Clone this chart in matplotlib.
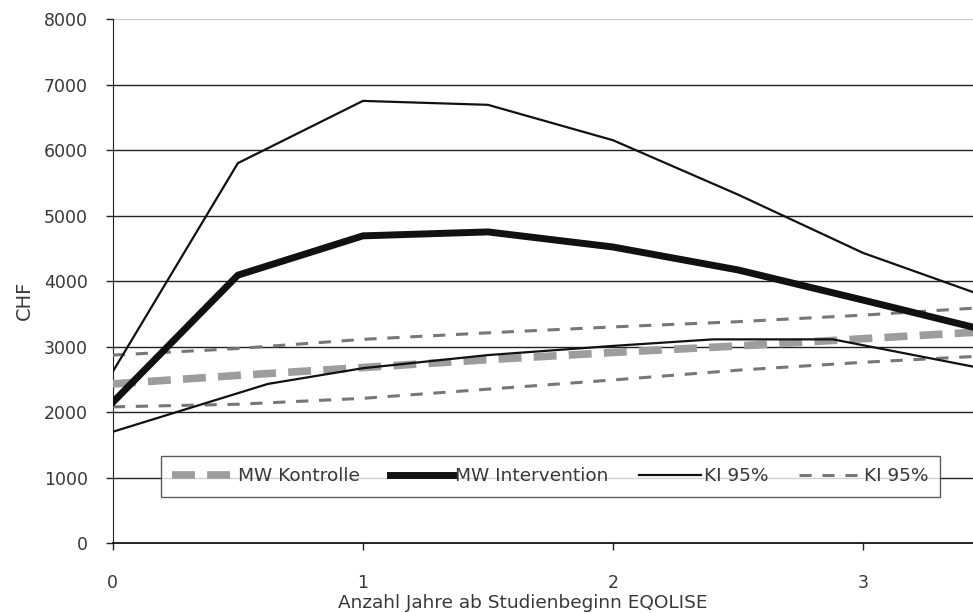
import numpy as np
import matplotlib
matplotlib.use("Agg")
import matplotlib.pyplot as plt

# --- data (CHF per year since study start) ---
years = [0, 0.5, 1, 1.5, 2, 2.5, 3, 3.5]
mw_kontrolle = [2430, 2560, 2680, 2800, 2910, 3010, 3120, 3230]
mw_intervention = [2150, 4090, 4690, 4750, 4520, 4170, 3710, 3240]
ki_int_upper = [2620, 5800, 6750, 6690, 6150, 5320, 4430, 3750]

ki_int_lower_x = [0, 0.62, 1, 1.5, 2, 2.4, 2.88, 3.5]
ki_int_lower = [1700, 2430, 2670, 2870, 3010, 3110, 3110, 2650]

ki_ctrl_upper = [2870, 2970, 3110, 3210, 3300, 3380, 3480, 3600]
ki_ctrl_lower = [2080, 2120, 2210, 2350, 2490, 2640, 2760, 2860]

y_ticks = [0, 1000, 2000, 3000, 4000, 5000, 6000, 7000, 8000]
x_ticks = [0, 1, 2, 3]

plt.rcParams["font.family"] = ["DejaVu Sans"]
txt_col = "#383838"
fs = 12.5
fs_big = 13.3

fig = plt.figure(figsize=(9.73, 6.13), dpi=100)
ax = fig.add_axes([0.116, 0.114, 0.884, 0.855])

# horizontal grid lines
for yv in y_ticks[1:-1]:
    ax.axhline(yv, color="#222222", lw=1.0, zorder=1)
ax.axhline(8000, color="#cccccc", lw=1.0, zorder=1)

ax.plot(years, mw_kontrolle, color="#9d9d9d", lw=5.5, dashes=(3, 1.6),
        label="MW Kontrolle", zorder=3)
ax.plot(years, mw_intervention, color="#111111", lw=5.0,
        label="MW Intervention", zorder=4)
ax.plot(years, ki_int_upper, color="#111111", lw=1.6, label="KI 95%", zorder=4)
ax.plot(ki_int_lower_x, ki_int_lower, color="#111111", lw=1.6, zorder=4)
ax.plot(years, ki_ctrl_upper, color="#777777", lw=2.2, dashes=(4, 3.5),
        label="KI 95%", zorder=3)
ax.plot(years, ki_ctrl_lower, color="#777777", lw=2.2, dashes=(4, 3.5), zorder=3)

ax.set_xlim(0, 3.44)
ax.set_ylim(0, 8000)
ax.set_xticks(x_ticks)
ax.set_yticks(y_ticks)
ax.tick_params(axis="both", direction="out", length=5, width=1, color="#222222",
               labelsize=fs, labelcolor=txt_col)
ax.tick_params(axis="y", pad=13)
ax.tick_params(axis="x", pad=17)

for side in ["top", "right"]:
    ax.spines[side].set_visible(False)
ax.spines["left"].set_color("#222222")
ax.spines["bottom"].set_color("#111111")
ax.spines["bottom"].set_linewidth(1.3)

fig.text(24 / 973, 1 - 300 / 613, "CHF", rotation=90, ha="center", va="center",
         fontsize=14, color=txt_col)
fig.text(523 / 973, 1 - 603 / 613, "Anzahl Jahre ab Studienbeginn EQOLISE",
         ha="center", va="center", fontsize=fs_big, color=txt_col)

leg = ax.legend(loc="center", bbox_to_anchor=(0.0558, 0.0916, 0.906, 0.0725),
                mode="expand", borderaxespad=0, ncol=4, frameon=True,
                fancybox=False, shadow=False, fontsize=fs_big, handlelength=3.4,
                handletextpad=0.15, columnspacing=1.0, borderpad=0.62,
                labelcolor=txt_col)
leg.get_frame().set_edgecolor("#333333")
leg.get_frame().set_linewidth(1.0)
leg.set_zorder(5)

fig.savefig("out.png", dpi=100)
